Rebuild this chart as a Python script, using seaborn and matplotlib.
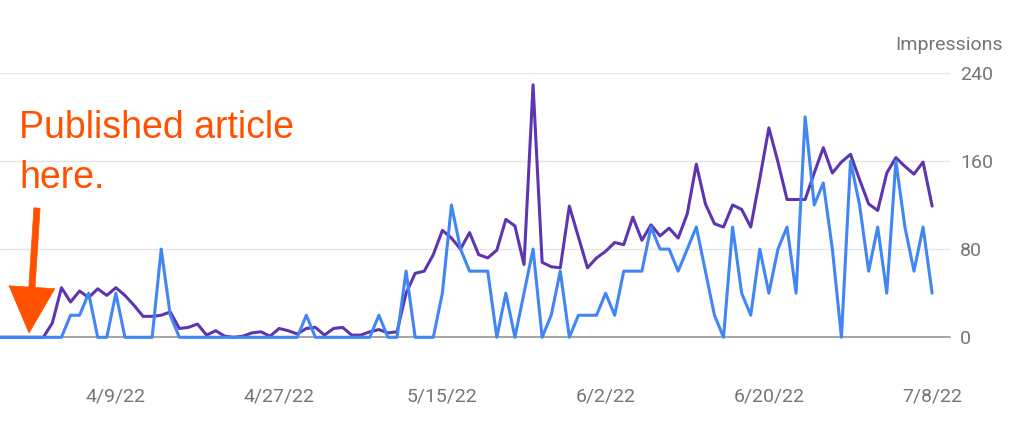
import matplotlib
matplotlib.use("Agg")
import matplotlib.pyplot as plt
import matplotlib.patches as mpatches
import pandas as pd
import seaborn as sns

# daily values (3/27/22 .. 7/8/22)
start_date = "2022-03-27"
impressions = [
    0, 0, 0, 0, 0, 0, 13, 45, 32, 42,
    36, 44, 38, 45, 38, 29, 19, 19, 20, 23,
    8, 9, 12, 2, 6, 1, 0, 1, 4, 5,
    1, 8, 6, 3, 8, 9, 2, 8, 9, 2,
    2, 5, 7, 4, 5, 40, 58, 60, 75, 97,
    90, 80, 95, 75, 72, 79, 107, 101, 66, 229,
    68, 64, 63, 119, 91, 63, 72, 78, 86, 84,
    109, 88, 102, 92, 99, 90, 112, 157, 121, 103,
    100, 120, 116, 100, 144, 190, 159, 125, 125, 125,
    149, 172, 149, 159, 166, 143, 121, 115, 149, 163,
    155, 148, 159, 119,
]
# second series, shown on the same scale in the screenshot
clicks = [
    0, 0, 0, 0, 0, 0, 0, 0, 20, 20,
    40, 0, 0, 40, 0, 0, 0, 0, 80, 20,
    0, 0, 0, 0, 0, 0, 0, 0, 0, 0,
    0, 0, 0, 0, 20, 0, 0, 0, 0, 0,
    0, 0, 20, 0, 0, 60, 0, 0, 0, 40,
    120, 80, 60, 60, 60, 0, 40, 0, 40, 80,
    0, 20, 60, 0, 20, 20, 20, 40, 20, 60,
    60, 60, 100, 80, 80, 60, 80, 100, 60, 20,
    0, 100, 40, 20, 80, 40, 80, 100, 40, 200,
    120, 140, 80, 0, 160, 120, 60, 100, 40, 160,
    100, 60, 100, 40,
]
tick_dates = ["2022-04-09", "2022-04-27", "2022-05-15", "2022-06-02", "2022-06-20", "2022-07-08"]
tick_labels = ["4/9/22", "4/27/22", "5/15/22", "6/2/22", "6/20/22", "7/8/22"]
y_ticks = [0, 80, 160, 240]

dates = pd.date_range(start_date, periods=len(impressions), freq="D")
df = pd.DataFrame({"date": dates, "Impressions": impressions, "Clicks": clicks})

sns.set_style("white")
plt.rcParams["font.family"] = ["Roboto", "DejaVu Sans"]

W, H = 1024, 433
fig = plt.figure(figsize=(W / 100, H / 100), dpi=100)
y0_px, ytop_px = 337.3, 72.7
ax = fig.add_axes([0, 1 - y0_px / H, 950 / W, (y0_px - ytop_px) / H])

ax.axhline(0, color="#9e9e9e", lw=1.3, zorder=1.5, clip_on=False)
sns.lineplot(data=df, x="date", y="Impressions", ax=ax, color="#5e35b1",
             lw=2.2, clip_on=False, zorder=3)
sns.lineplot(data=df, x="date", y="Clicks", ax=ax, color="#4285f4",
             lw=2.2, clip_on=False, zorder=4)

ax.set_xlim(dates[0] + pd.Timedelta(days=0.226), dates[0] + pd.Timedelta(days=104.97))
ax.set_ylim(0, 240)
ax.set_yticks(y_ticks)
ax.grid(axis="y", color="#e6e6e6", lw=1)
ax.grid(axis="x", visible=False)
for s in ax.spines.values():
    s.set_visible(False)

ax.yaxis.tick_right()
ax.tick_params(axis="y", length=0, pad=7.2, labelsize=14, labelcolor="#757575")
ax.set_xticks(pd.to_datetime(tick_dates))
ax.set_xticklabels(tick_labels)
ax.tick_params(axis="x", length=0, pad=36.5, labelsize=14, labelcolor="#757575")
ax.set_xlabel("")
ax.set_ylabel("")

fig.text(1003 / W, 1 - 45 / H, "Impressions", ha="right", va="center",
         fontsize=14, color="#757575")

# annotation
orange = "#ff5100"
fig.text(19 / W, 1 - 138 / H, "Published article", ha="left", va="baseline",
         fontsize=27, color=orange, family=["Liberation Sans", "DejaVu Sans"])
fig.text(19 / W, 1 - 188 / H, "here.", ha="left", va="baseline",
         fontsize=27, color=orange, family=["Liberation Sans", "DejaVu Sans"])

arrow = mpatches.FancyArrowPatch(
    (37 / W, 1 - 208 / H), (29 / W, 1 - 333 / H),
    transform=fig.transFigure,
    arrowstyle=mpatches.ArrowStyle.Simple(head_length=33, head_width=33, tail_width=4.5),
    mutation_scale=1, color=orange, lw=0.5, shrinkA=0, shrinkB=0, zorder=10)
fig.patches.append(arrow)

fig.savefig("out.png", dpi=100)
